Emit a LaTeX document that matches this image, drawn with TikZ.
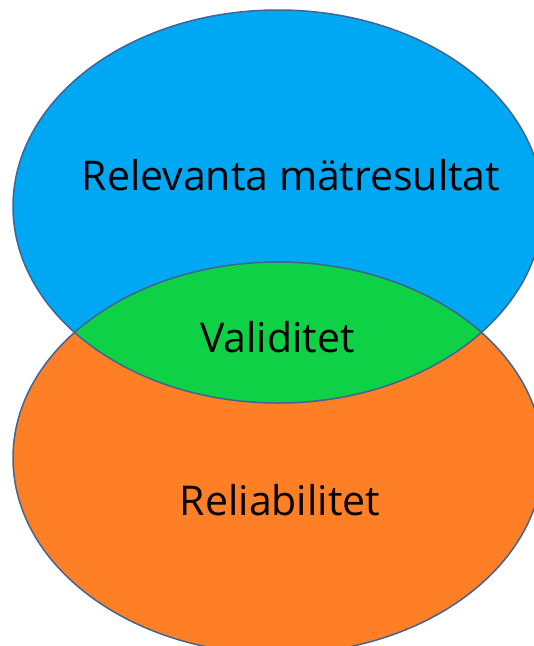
\documentclass[tikz,border=0pt]{standalone}
\usepackage{fontspec}
\setmainfont{Open Sans}
\definecolor{cblue}{HTML}{00A8F3}
\definecolor{cgreen}{HTML}{0ED145}
\definecolor{corange}{HTML}{FF7F27}
\definecolor{cline}{HTML}{3F6592}
\begin{document}
\begin{tikzpicture}[x=1pt,y=-1pt,
  outline/.style={draw=cline,line width=1.5pt},
  lbl/.style={anchor=base,inner sep=0pt,font=\fontsize{41}{49}\selectfont}]
\useasboundingbox (0,0) rectangle (534,646);
\clip (0,0) rectangle (534,646);
\coordinate (ct) at (278,206.5);
\coordinate (cb) at (278,458);
\fill[cblue] (ct) ellipse [x radius=265, y radius=196.5];
\fill[corange] (cb) ellipse [x radius=265, y radius=196];
\begin{scope}
  \clip (ct) ellipse [x radius=265, y radius=196.5];
  \fill[cgreen] (cb) ellipse [x radius=265, y radius=196];
\end{scope}
\draw[outline] (ct) ellipse [x radius=265, y radius=196.5];
\draw[outline] (cb) ellipse [x radius=265, y radius=196];
\node[lbl] (rel) at (291,190) {Relevanta mätresultat};
\node[lbl] (val) at (277.5,352) {Validitet};
\node[lbl] (rea) at (280,515.5) {Reliabilitet};
\end{tikzpicture}
\end{document}
